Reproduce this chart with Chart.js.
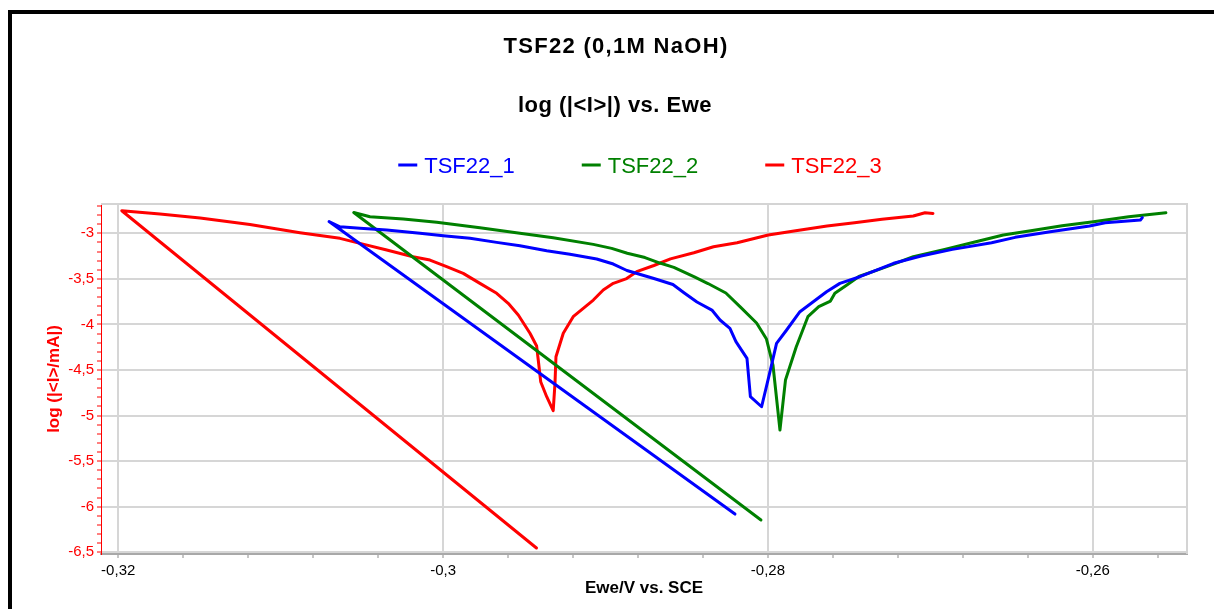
<!DOCTYPE html>
<html>
<head>
<meta charset="utf-8">
<title>TSF22 (0,1M NaOH)</title>
<script src="https://cdn.jsdelivr.net/npm/chart.js@4.4.0/dist/chart.umd.min.js"></script>
<style>
  html, body { margin: 0; padding: 0; background: #fff; overflow: hidden; }
  .frame { position: absolute; left: 8px; top: 10px; width: 1230px; height: 630px; border-left: 4px solid #000; border-top: 4px solid #000; }
  .wrap { position: absolute; left: 0; top: 0; width: 1214px; height: 609px; }
</style>
</head>
<body>
<div class="frame"></div>
<div class="wrap"><canvas id="tafelChart" width="1214" height="609"></canvas></div>
<script>
const chartTitle = 'TSF22 (0,1M NaOH)';
const chartSubtitle = 'log (|<I>|) vs. Ewe';
const xAxisTitle = 'Ewe/V vs. SCE';
const yAxisTitle = 'log (|<I>/mA|)';
const seriesNames = ['TSF22_1', 'TSF22_2', 'TSF22_3'];
const seriesColors = ['#0000ff', '#008000', '#ff0000'];

// Ewe (V vs SCE) and log(|I|/mA), in recorded order
const ewe1 = [-0.28203, -0.30702, -0.30635, -0.30512, -0.30347, -0.30142, -0.29999, -0.29834, -0.29670, -0.29527,
  -0.29362, -0.29219, -0.29054, -0.28952, -0.28868, -0.28702, -0.28585, -0.28517, -0.28437, -0.28345,
  -0.28295, -0.28234, -0.28197, -0.28129, -0.28108, -0.28039, -0.27988, -0.27947, -0.27885, -0.27803,
  -0.27721, -0.27639, -0.27557, -0.27434, -0.27226, -0.27057, -0.26864, -0.26623, -0.26478, -0.26262,
  -0.26020, -0.25924, -0.25707, -0.25695];
const logI1 = [-6.081, -2.871, -2.928, -2.945, -2.964, -3.000, -3.026, -3.055, -3.099, -3.136,
  -3.191, -3.230, -3.282, -3.337, -3.408, -3.496, -3.562, -3.652, -3.754, -3.842,
  -3.951, -4.042, -4.189, -4.372, -4.793, -4.903, -4.522, -4.207, -4.061, -3.860,
  -3.750, -3.641, -3.549, -3.476, -3.329, -3.249, -3.176, -3.103, -3.044, -2.982,
  -2.920, -2.884, -2.854, -2.827];

const ewe2 = [-0.28043, -0.30550, -0.30450, -0.30245, -0.30039, -0.29773, -0.29527, -0.29322, -0.29075, -0.28962,
  -0.28866, -0.28757, -0.28665, -0.28579, -0.28456, -0.28369, -0.28259, -0.28169, -0.28070, -0.28009,
  -0.27969, -0.27926, -0.27892, -0.27826, -0.27754, -0.27687, -0.27615, -0.27588, -0.27514, -0.27440,
  -0.27298, -0.27105, -0.26912, -0.26720, -0.26551, -0.26382, -0.26189, -0.25996, -0.25779, -0.25550];
const logI2 = [-6.146, -2.772, -2.818, -2.843, -2.879, -2.939, -3.000, -3.048, -3.121, -3.165,
  -3.219, -3.266, -3.326, -3.373, -3.476, -3.551, -3.655, -3.809, -3.984, -4.160,
  -4.445, -5.158, -4.610, -4.248, -3.915, -3.805, -3.743, -3.658, -3.567, -3.474,
  -3.384, -3.257, -3.176, -3.092, -3.019, -2.971, -2.917, -2.873, -2.818, -2.774];

const ewe3 = [-0.29425, -0.31978, -0.31743, -0.31496, -0.31189, -0.30881, -0.30635, -0.30512, -0.30347, -0.30185,
  -0.30081, -0.29978, -0.29876, -0.29773, -0.29670, -0.29599, -0.29537, -0.29465, -0.29424, -0.29414,
  -0.29399, -0.29362, -0.29322, -0.29311, -0.29305, -0.29260, -0.29199, -0.29137, -0.29075, -0.29014,
  -0.28952, -0.28870, -0.28808, -0.28702, -0.28600, -0.28456, -0.28335, -0.28190, -0.27998, -0.27829,
  -0.27636, -0.27467, -0.27298, -0.27105, -0.27033, -0.26984];
const logI3 = [-6.453, -2.752, -2.788, -2.832, -2.903, -2.993, -3.055, -3.110, -3.183, -3.257,
  -3.293, -3.366, -3.439, -3.549, -3.658, -3.768, -3.896, -4.097, -4.237, -4.390,
  -4.628, -4.793, -4.946, -4.646, -4.354, -4.097, -3.915, -3.823, -3.732, -3.622,
  -3.549, -3.496, -3.421, -3.353, -3.280, -3.213, -3.147, -3.103, -3.019, -2.971,
  -2.920, -2.884, -2.846, -2.810, -2.774, -2.781];

const xMajorTicks = [-0.32, -0.3, -0.28, -0.26];
const yMajorTicks = [-6.5, -6, -5.5, -5, -4.5, -4, -3.5, -3];
const xMin = -0.32106, xMax = -0.2542;
const yMin = -6.519, yMax = -2.678;

const fontFamily = '"Liberation Sans", Arial, sans-serif';

const xTickValues = [];
for (let i = 0; i <= 16; i++) xTickValues.push(Math.round((-0.32 + i * 0.004) * 10000) / 10000);
const yTickValues = [];
for (let i = 0; i <= 38; i++) yTickValues.push(Math.round((-6.5 + i * 0.1) * 10) / 10);

const isMajor = (v, list) => list.some((m) => Math.abs(m - v) < 1e-9);
const fmt = (v) => String(v).replace('.', ',');

const series = [[ewe1, logI1], [ewe2, logI2], [ewe3, logI3]];
const datasets = series.map(([xs, ys], i) => ({
  label: seriesNames[i],
  data: xs.map((x, j) => ({ x, y: ys[j] })),
  borderColor: seriesColors[i],
  backgroundColor: seriesColors[i],
  borderWidth: 3,
  pointRadius: 0,
  showLine: true,
  tension: 0,
  fill: false,
  borderJoinStyle: 'round',
  borderCapStyle: 'round',
}));

const plotFrame = {
  id: 'plotFrame',
  beforeDatasetsDraw(chart) {
    const { ctx, chartArea: a } = chart;
    ctx.save();
    ctx.strokeStyle = '#d4d4d4';
    ctx.lineWidth = 2;
    ctx.beginPath();
    ctx.moveTo(a.left, a.top);
    ctx.lineTo(a.right, a.top);
    ctx.lineTo(a.right, a.bottom);
    ctx.stroke();
    ctx.restore();
  },
};

const header = {
  id: 'header',
  afterDraw(chart) {
    const ctx = chart.ctx;
    ctx.save();
    ctx.textAlign = 'center';
    ctx.textBaseline = 'alphabetic';
    ctx.fillStyle = '#000';
    ctx.font = 'bold 22px ' + fontFamily;
    ctx.letterSpacing = '1.3px';
    ctx.fillText(chartTitle, 616, 53);
    ctx.letterSpacing = '0.5px';
    ctx.fillText(chartSubtitle, 615, 112);

    ctx.letterSpacing = '0px';
    ctx.font = '22px ' + fontFamily;
    ctx.textAlign = 'left';
    const items = chart.data.datasets.map((ds) => ({
      label: ds.label,
      color: ds.borderColor,
      w: ctx.measureText(ds.label).width,
    }));
    const total = items.reduce((s, it) => s + 26 + it.w, 0) + 67 * (items.length - 1);
    let x = 640 - total / 2;
    items.forEach((it) => {
      ctx.fillStyle = it.color;
      ctx.fillRect(x, 163.5, 19, 3);
      ctx.fillText(it.label, x + 26, 173);
      x += 26 + it.w + 67;
    });
    ctx.restore();
  },
};

new Chart(document.getElementById('tafelChart'), {
  type: 'scatter',
  data: { datasets },
  plugins: [plotFrame, header],
  options: {
    responsive: false,
    animation: false,
    layout: { padding: { left: 12, top: 204, right: 27, bottom: 0 } },
    plugins: {
      legend: { display: false },
      title: { display: false },
      tooltip: { enabled: false },
    },
    scales: {
      x: {
        type: 'linear',
        min: xMin,
        max: xMax,
        afterBuildTicks: (scale) => { scale.ticks = xTickValues.map((v) => ({ value: v })); },
        afterFit: (scale) => { scale.height = 55; },
        ticks: {
          autoSkip: false,
          maxRotation: 0,
          padding: 4,
          color: '#000',
          font: { family: fontFamily, size: 15 },
          callback: (v) => (isMajor(v, xMajorTicks) ? fmt(v) : ''),
        },
        grid: {
          color: (c) => (c.tick && isMajor(c.tick.value, xMajorTicks) ? '#d6d6d6' : 'rgba(0,0,0,0)'),
          lineWidth: 2,
          tickLength: 4,
          tickColor: '#8c8c8c',
          tickWidth: 1,
        },
        border: { color: '#a8a8a8', width: 2 },
        title: {
          display: true,
          text: xAxisTitle,
          color: '#000',
          font: { family: fontFamily, size: 17, weight: 'bold' },
          padding: { top: 0, bottom: 10 },
        },
      },
      y: {
        type: 'linear',
        min: yMin,
        max: yMax,
        afterBuildTicks: (scale) => { scale.ticks = yTickValues.map((v) => ({ value: v })); },
        afterFit: (scale) => { scale.width = 89; },
        ticks: {
          autoSkip: false,
          padding: 3,
          color: '#ff0000',
          font: { family: fontFamily, size: 15 },
          callback: (v) => (isMajor(v, yMajorTicks) ? fmt(v) : ''),
        },
        grid: {
          color: (c) => (c.tick && isMajor(c.tick.value, yMajorTicks) ? '#d6d6d6' : 'rgba(0,0,0,0)'),
          lineWidth: 2,
          tickLength: 4,
          tickColor: '#ff0000',
          tickWidth: 1,
        },
        border: { color: '#ff0000', width: 1 },
        title: {
          display: true,
          text: yAxisTitle,
          color: '#ff0000',
          font: { family: fontFamily, size: 17, weight: 'bold' },
          padding: { top: 32, bottom: 0 },
        },
      },
    },
  },
});
</script>
</body>
</html>
